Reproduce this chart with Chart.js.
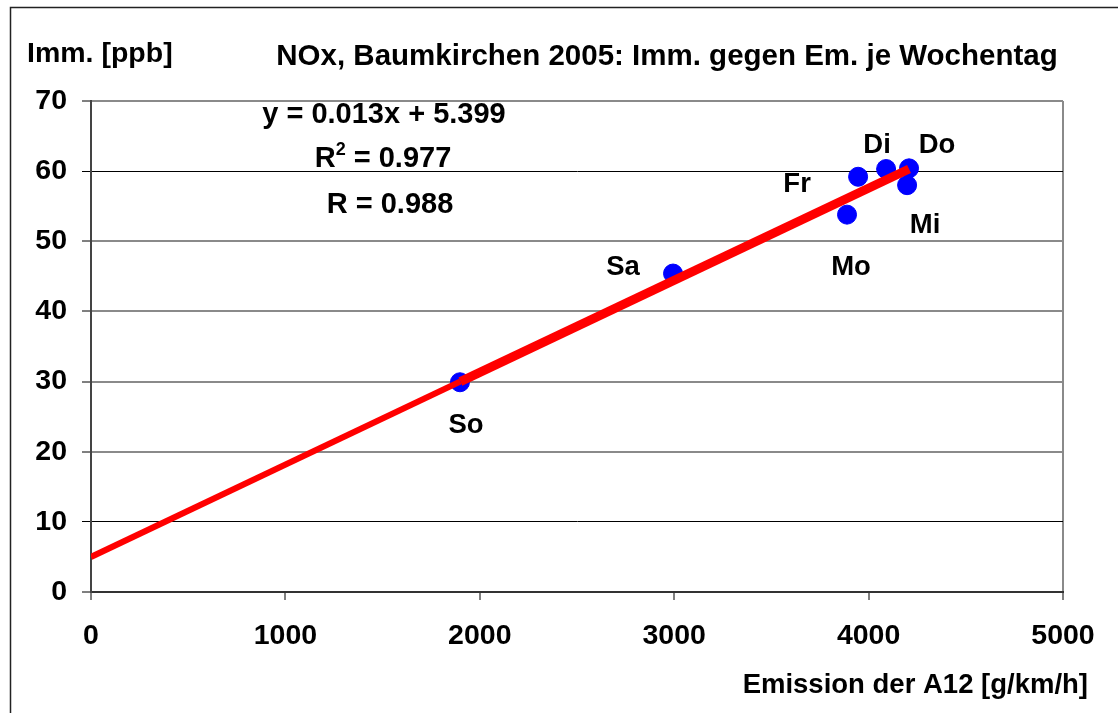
<!DOCTYPE html>
<html>
<head>
<meta charset="utf-8">
<script src="https://cdn.jsdelivr.net/npm/chart.js@4.4.1/dist/chart.umd.min.js"></script>
<style>
    html, body { margin: 0; padding: 0; background: #fff; }
    canvas { display: block; }
</style>
</head>
<body>
<canvas id="noxChart" width="1118" height="713"></canvas>
<script>
// weekday means, NOx Baumkirchen 2005
const days = ['So', 'Sa', 'Mo', 'Fr', 'Di', 'Do', 'Mi'];
const emission = [1898, 2994, 3889, 3946, 4090, 4208, 4198];   // g/km/h
const immission = [29.9, 45.4, 53.8, 59.2, 60.3, 60.4, 58.0];  // ppb

// trend line as drawn in the picture
const trendX = [0, 1900, 4208];
const trendY = [5.0, 30.0, 60.3];

const xTicks = [0, 1000, 2000, 3000, 4000, 5000];
const yTicks = [0, 10, 20, 30, 40, 50, 60, 70];

const chartTitle = 'NOx, Baumkirchen 2005: Imm. gegen Em. je Wochentag';
const yTitle = 'Imm. [ppb]';
const xTitle = 'Emission der A12 [g/km/h]';
const fitEquation = 'y = 0.013x + 5.399';
const fitR2 = '0.977';
const fitR = '0.988';

document.addEventListener('DOMContentLoaded', () => {

    const FONT = '"Liberation Sans", Arial, sans-serif';

    // where each weekday label sits relative to its dot
    const labelOffset = {
        So: [6, 43], Sa: [-50, -6], Mo: [4, 53], Fr: [-61, 8],
        Di: [-9, -24], Do: [28, -23], Mi: [18, 40]
    };

    const textPlugin = {
        id: 'texts',
        beforeDraw(chart) {
            const ctx = chart.ctx;
            ctx.save();
            ctx.fillStyle = '#fff';
            ctx.fillRect(0, 0, chart.width, chart.height);
            // outer frame (left and top edge visible)
            ctx.strokeStyle = '#222';
            ctx.lineWidth = 1.5;
            ctx.beginPath();
            ctx.moveTo(10.5, chart.height);
            ctx.lineTo(10.5, 7.5);
            ctx.lineTo(chart.width, 7.5);
            ctx.stroke();
            ctx.restore();
        },
        afterDraw(chart) {
            const ctx = chart.ctx;
            const xs = chart.scales.x;
            const ys = chart.scales.y;
            ctx.save();
            ctx.fillStyle = '#000';
            ctx.textBaseline = 'alphabetic';

            ctx.font = `bold 29.5px ${FONT}`;
            ctx.textAlign = 'center';
            ctx.fillText(chartTitle, 667, 65);

            ctx.font = `bold 28.5px ${FONT}`;
            ctx.textAlign = 'left';
            ctx.fillText(yTitle, 27, 62);
            ctx.font = `bold 27.5px ${FONT}`;
            ctx.textAlign = 'right';
            ctx.fillText(xTitle, 1088, 693);

            // fit text
            ctx.font = `bold 29px ${FONT}`;
            ctx.textAlign = 'center';
            ctx.fillText(fitEquation, 384, 123);
            ctx.fillText('R = ' + fitR, 390, 213);

            // R² with raised 2
            const rest = ' = ' + fitR2;
            const wR = ctx.measureText('R').width;
            const wRest = ctx.measureText(rest).width;
            ctx.font = `bold 18px ${FONT}`;
            const wSup = ctx.measureText('2').width;
            const x0 = 383 - (wR + wSup + wRest) / 2;
            ctx.textAlign = 'left';
            ctx.font = `bold 29px ${FONT}`;
            ctx.fillText('R', x0, 167);
            ctx.font = `bold 18px ${FONT}`;
            ctx.fillText('2', x0 + wR, 155);
            ctx.font = `bold 29px ${FONT}`;
            ctx.fillText(rest, x0 + wR + wSup, 167);

            // weekday labels
            ctx.font = `bold 27.5px ${FONT}`;
            ctx.textAlign = 'center';
            ctx.textBaseline = 'middle';
            days.forEach((d, i) => {
                const px = xs.getPixelForValue(emission[i]);
                const py = ys.getPixelForValue(immission[i]);
                const o = labelOffset[d];
                ctx.fillText(d, px + o[0], py + o[1]);
            });
            ctx.restore();
        }
    };

    const ctx = document.getElementById('noxChart').getContext('2d');

    new Chart(ctx, {
        type: 'scatter',
        data: {
            datasets: [{
                type: 'line',
                label: 'Trend',
                data: trendX.map((x, i) => ({ x: x, y: trendY[i] })),
                borderColor: '#ff0000',
                borderWidth: 9,
                segment: {
                    borderWidth: c => c.p0DataIndex === 0 ? 6 : 9
                },
                pointRadius: 0,
                fill: false,
                tension: 0,
                order: 0
            }, {
                label: 'Wochentage',
                data: emission.map((x, i) => ({ x: x, y: immission[i] })),
                backgroundColor: '#0000ff',
                borderColor: '#0000ff',
                pointRadius: 9.5,
                pointHoverRadius: 9.5,
                order: 1
            }]
        },
        options: {
            responsive: false,
            animation: false,
            events: [],
            layout: {
                padding: { top: 101, right: 55, bottom: 0, left: 0 }
            },
            scales: {
                x: {
                    type: 'linear',
                    min: 0,
                    max: 5000,
                    afterBuildTicks: s => { s.ticks = xTicks.map(v => ({ value: v })); },
                    afterFit: s => { s.height = 121; },
                    grid: {
                        drawOnChartArea: true,
                        color: c => (c.tick && c.tick.value === 5000) ? '#8a8a8a' : 'rgba(0,0,0,0)',
                        lineWidth: 2,
                        tickColor: '#000',
                        tickLength: 8,
                        tickWidth: 1
                    },
                    border: { color: '#333', width: 2 },
                    ticks: {
                        color: '#000',
                        font: { family: FONT, size: 28.5, weight: 'bold' },
                        padding: 19,
                        maxRotation: 0,
                        autoSkip: false,
                        callback: v => String(v)
                    }
                },
                y: {
                    min: 0,
                    max: 70,
                    afterBuildTicks: s => { s.ticks = yTicks.map(v => ({ value: v })); },
                    afterFit: s => { s.width = 91; },
                    grid: {
                        color: c => {
                            const v = c.tick ? c.tick.value : null;
                            return (v === 60 || v === 10) ? '#000' : '#8a8a8a';
                        },
                        lineWidth: c => {
                            const v = c.tick ? c.tick.value : null;
                            return (v === 60 || v === 10) ? 1 : 2;
                        },
                        tickColor: '#000',
                        tickLength: 9,
                        tickWidth: 1
                    },
                    border: { color: '#444', width: 2 },
                    ticks: {
                        color: '#000',
                        font: { family: FONT, size: 28.5, weight: 'bold' },
                        padding: 15,
                        callback: v => String(v)
                    }
                }
            },
            plugins: {
                legend: { display: false },
                tooltip: { enabled: false }
            }
        },
        plugins: [textPlugin]
    });
});
</script>
</body>
</html>
